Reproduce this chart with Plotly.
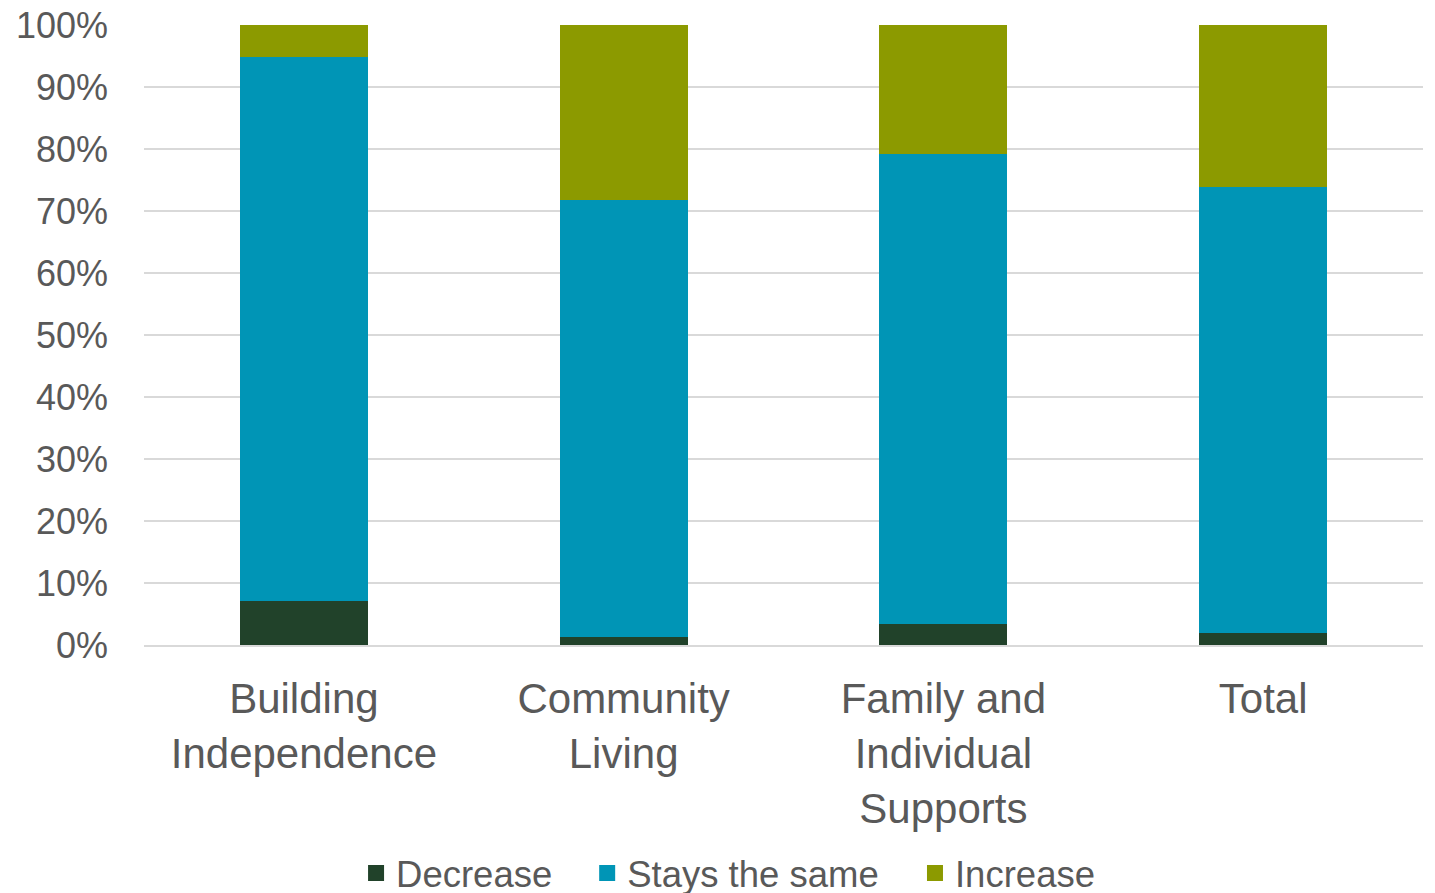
import plotly.graph_objects as go

categories = ["Building<br>Independence", "Community<br>Living", "Family and<br>Individual<br>Supports", "Total"]
decrease = [0.071, 0.013, 0.034, 0.020]
stays_same = [0.877, 0.704, 0.758, 0.719]
increase = [0.052, 0.283, 0.208, 0.261]

series = [
    ("Decrease", decrease, "#21422A"),
    ("Stays the same", stays_same, "#0095B6"),
    ("Increase", increase, "#8C9A00"),
]
legend_x = [0.1658, 0.3465, 0.6028]

fig = go.Figure()
for name, vals, color in series:
    fig.add_trace(go.Bar(x=categories, y=vals, name=name, marker_color=color,
                         marker_line_width=0, width=0.4, showlegend=False))

legend_names = ["legend", "legend2", "legend3"]
for (name, vals, color), lg in zip(series, legend_names):
    fig.add_trace(go.Scatter(x=[None], y=[None], mode="markers", name=name,
                             marker=dict(symbol="square", size=16, color=color),
                             legend=lg, showlegend=True))

layout_legends = {}
for lg, lx in zip(legend_names, legend_x):
    layout_legends[lg] = dict(orientation="h", x=lx, xanchor="left", y=-0.368,
                              yanchor="middle", font=dict(size=36.5, color="#595959"),
                              bgcolor="rgba(0,0,0,0)")

# page body has an 8px default margin; compensate so the plot area lands where the reference has it
fig.update_layout(
    barmode="stack",
    width=1427, height=885,
    margin=dict(l=136, r=12, t=17, b=248, autoexpand=False),
    paper_bgcolor="white", plot_bgcolor="white",
    font=dict(family="Liberation Sans, Arial", color="#595959"),
    showlegend=True,
    **layout_legends,
)
fig.update_yaxes(range=[0, 1], dtick=0.1, tickformat=".0%", showgrid=True,
                 gridcolor="#D9D9D9", gridwidth=1.5, zeroline=False,
                 tickfont=dict(size=36, color="#595959"), ticklabelstandoff=35,
                 ticklabeloverflow="allow",
                 showline=False, automargin=False)
fig.update_xaxes(showline=True, linecolor="#D9D9D9", linewidth=2,
                 tickfont=dict(size=42, color="#595959"), ticklabelstandoff=16,
                 automargin=False)

fig.write_html("out.html")
